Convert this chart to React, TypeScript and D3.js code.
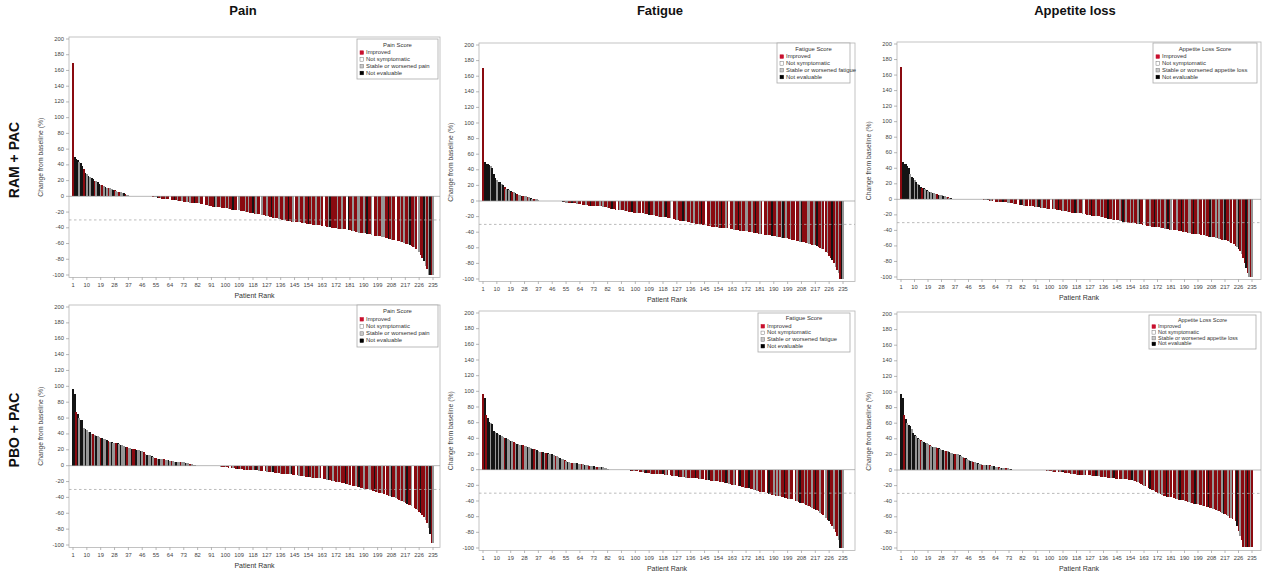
import React from 'react'
import * as d3 from 'd3'

// patient ranks and axis ticks
const ranks = d3.range(1, 236)
const rankTicks = [1, 10, 19, 28, 37, 46, 55, 64, 73, 82, 91, 100, 109, 118, 127, 136, 145, 154, 163, 172, 181, 190, 199, 208, 217, 226, 235]
const yTicks = [-100, -80, -60, -40, -20, 0, 20, 40, 60, 80, 100, 120, 140, 160, 180, 200]

const columnTitles = ['Pain', 'Fatigue', 'Appetite loss']
const rowTitles = ['RAM + PAC', 'PBO + PAC']
const legendTitles = ['Pain Score', 'Fatigue Score', 'Appetite Loss Score']
const worsenedLabels = ['Stable or worsened pain', 'Stable or worsened fatigue', 'Stable or worsened appetite loss']

// R = improved, W = not symptomatic, G = stable or worsened, K = not evaluable
const painRamValues = [
  170, 50, 48, 46, 44, 42, 38, 35, 30, 28,
  26, 25, 23, 22, 20, 19, 18, 16, 15, 14,
  13, 12, 11, 10, 10, 9, 8, 8, 7, 6,
  6, 5, 4, 4, 3, 2, 2, 1, 0, 0,
  0, 0, 0, 0, 0, 0, 0, 0, 0, 0,
  0, 0, -1, -1, -1, -2, -2, -2, -3, -3,
  -3, -4, -4, -4, -5, -5, -5, -5, -6, -6,
  -6, -6, -7, -7, -7, -7, -8, -8, -8, -8,
  -8, -9, -9, -10, -10, -10, -11, -11, -12, -12,
  -12, -13, -13, -13, -14, -14, -14, -15, -15, -15,
  -15, -16, -16, -17, -17, -17, -18, -18, -18, -19,
  -19, -19, -20, -20, -20, -21, -21, -21, -22, -22,
  -22, -23, -23, -24, -24, -25, -25, -25, -26, -26,
  -27, -27, -28, -28, -29, -29, -30, -30, -30, -31,
  -31, -31, -32, -32, -32, -33, -33, -33, -33, -34,
  -34, -34, -35, -35, -35, -35, -36, -36, -36, -37,
  -37, -37, -38, -38, -38, -39, -39, -39, -40, -40,
  -40, -40, -41, -41, -41, -42, -42, -42, -43, -43,
  -43, -44, -44, -44, -45, -45, -46, -46, -46, -47,
  -47, -48, -48, -48, -49, -49, -50, -50, -50, -51,
  -51, -52, -52, -53, -53, -54, -54, -55, -55, -56,
  -56, -57, -57, -58, -58, -59, -60, -60, -61, -62,
  -63, -64, -65, -67, -69, -71, -74, -78, -82, -88,
  -93, -100, -100, -100, -100,
]
const painRamCats = [
  'RKKKGKKRKG', 'KGKKRGKKGR', 'GKGRGGKRGG', 'RGGKRGGGGG', 'GGGGGGGGGG',
  'GGRGGKRGRR', 'GRRWRRKRGR', 'RGRRGRGRRK', 'RRGRRWRRGR', 'RRKGRRGRRG',
  'RGRRKRRWGR', 'RRGRGRRKRG', 'RRWGRRGRRK', 'RGRRGRRGRR', 'KRRGWRRGRR',
  'GRRKRGRRGR', 'RGRWRRGKRR', 'RRGRRGRRWK', 'RRGRRGGRRG', 'RKRRGWRRGR',
  'RGGRRKRGRR', 'WRRGRGRRGK', 'RRGRWGRRKG', 'RGKRG',
]

const fatigueRamValues = [
  170, 50, 48, 47, 46, 45, 42, 35, 30, 27,
  25, 24, 22, 20, 18, 16, 15, 14, 13, 12,
  11, 10, 9, 8, 8, 7, 7, 6, 6, 5,
  5, 4, 3, 3, 2, 2, 1, 0, 0, 0,
  0, 0, 0, 0, 0, 0, 0, 0, 0, 0,
  0, 0, -1, -1, -2, -2, -2, -3, -3, -3,
  -3, -4, -4, -4, -4, -5, -5, -5, -5, -6,
  -6, -6, -6, -7, -7, -7, -7, -7, -8, -8,
  -8, -9, -9, -10, -10, -10, -11, -11, -11, -12,
  -12, -12, -13, -13, -13, -14, -14, -14, -15, -15,
  -15, -15, -16, -16, -16, -17, -17, -17, -18, -18,
  -18, -18, -19, -19, -20, -20, -20, -21, -21, -21,
  -22, -22, -22, -23, -23, -24, -24, -24, -25, -25,
  -26, -26, -26, -27, -27, -28, -28, -28, -29, -29,
  -30, -30, -30, -31, -31, -31, -32, -32, -32, -33,
  -33, -33, -33, -34, -34, -34, -35, -35, -35, -35,
  -36, -36, -36, -37, -37, -37, -37, -38, -38, -38,
  -39, -39, -39, -40, -40, -40, -41, -41, -41, -42,
  -42, -42, -43, -43, -43, -44, -44, -44, -45, -45,
  -45, -46, -46, -46, -47, -47, -48, -48, -48, -49,
  -49, -50, -50, -50, -51, -51, -52, -52, -53, -53,
  -54, -54, -55, -55, -56, -57, -57, -58, -59, -60,
  -61, -62, -63, -65, -67, -70, -73, -76, -80, -84,
  -88, -92, -100, -100, -100,
]
const fatigueRamCats = [
  'RKKKKGKKKG', 'KKGKRGKGKR', 'GKRGGKRGGR', 'GKGRGGGGGG', 'GGGGGGGGGG',
  'GGKRGGRRKR', 'RGRRWRRGRR', 'KRRGRRGRGR', 'RGRRKRRWRG', 'RRGRGRRKRR',
  'GRRWRGRRKR', 'RGRRGRRGRK', 'RRGWRRGRRR', 'KRGRRGRGRR', 'GRKRRWRRGR',
  'RGRGRKRRGR', 'WRRGRRKRGR', 'RGGRRGRKRR', 'GRWRRGRRKR', 'RGRRGKRGRR',
  'GRRWRRGKRR', 'RGGRRGRKRR', 'GRWRGRRKRG', 'RGRKG',
]

const appetiteRamValues = [
  170, 48, 46, 45, 43, 40, 32, 29, 27, 25,
  22, 20, 18, 16, 15, 14, 13, 12, 11, 10,
  9, 8, 8, 7, 7, 6, 5, 5, 4, 4,
  3, 3, 2, 2, 1, 1, 0, 0, 0, 0,
  0, 0, 0, 0, 0, 0, 0, 0, 0, 0,
  0, 0, 0, 0, 0, -1, -1, -1, -1, -2,
  -2, -2, -2, -3, -3, -3, -3, -4, -4, -4,
  -4, -5, -5, -5, -5, -6, -6, -6, -6, -7,
  -7, -7, -8, -8, -8, -8, -9, -9, -9, -10,
  -10, -10, -10, -11, -11, -11, -11, -12, -12, -12,
  -13, -13, -13, -13, -14, -14, -14, -15, -15, -15,
  -15, -16, -16, -16, -17, -17, -17, -18, -18, -18,
  -18, -19, -19, -19, -20, -20, -20, -21, -21, -21,
  -22, -22, -22, -23, -23, -23, -24, -24, -25, -25,
  -25, -26, -26, -27, -27, -27, -28, -28, -29, -29,
  -29, -30, -30, -30, -31, -31, -31, -32, -32, -32,
  -32, -33, -33, -33, -34, -34, -34, -35, -35, -35,
  -36, -36, -36, -37, -37, -37, -38, -38, -38, -39,
  -39, -39, -40, -40, -40, -41, -41, -41, -42, -42,
  -42, -43, -43, -43, -44, -44, -44, -45, -45, -45,
  -46, -46, -46, -47, -47, -48, -48, -48, -49, -49,
  -50, -50, -51, -51, -52, -52, -53, -53, -54, -55,
  -56, -57, -58, -60, -62, -64, -67, -71, -76, -82,
  -88, -95, -100, -100, -100,
]
const appetiteRamCats = [
  'RKKKKKGKKG', 'KGKKRKGKGK', 'GKGGRKGGKG', 'GRGKGGGGGG', 'GGGGGGGGGG',
  'GGGGGRGGKR', 'GRWRRGRRKR', 'RGGRRGRRWR', 'KRGRRWRGRR', 'GRKRGRRGRR',
  'WRGRRKRRGR', 'RGRGRRKRGR', 'RGWRRGRKRR', 'GRRGRGRRKR', 'RGRWRRGRKR',
  'GRRGRGRRGK', 'RRWGRRGRRK', 'RGRGRRGRKR', 'GWRRGRRKRG', 'RRGGRKRRGR',
  'RWRGRRKGRR', 'GRGRRGKRRG', 'RWRRGKRGRR', 'KRGRG',
]

const painPboValues = [
  97, 90, 68, 65, 60, 58, 57, 48, 46, 45,
  43, 42, 40, 40, 39, 38, 37, 36, 35, 35,
  34, 33, 32, 31, 30, 30, 29, 29, 28, 28,
  27, 26, 26, 25, 24, 23, 22, 22, 21, 21,
  21, 20, 20, 20, 19, 18, 17, 15, 14, 13,
  13, 12, 11, 10, 10, 9, 9, 8, 8, 8,
  7, 7, 7, 6, 6, 6, 5, 5, 5, 4,
  4, 4, 4, 3, 3, 3, 2, 2, 1, 1,
  0, 0, 0, 0, 0, 0, 0, 0, 0, 0,
  0, 0, -1, -1, -1, -1, -2, -2, -2, -2,
  -2, -3, -3, -3, -3, -3, -4, -4, -4, -4,
  -4, -5, -5, -5, -5, -5, -6, -6, -6, -6,
  -6, -7, -7, -7, -7, -7, -8, -8, -8, -8,
  -8, -9, -9, -9, -9, -10, -10, -10, -10, -11,
  -11, -11, -11, -12, -12, -12, -12, -13, -13, -13,
  -13, -14, -14, -14, -14, -15, -15, -15, -16, -16,
  -16, -16, -17, -17, -17, -18, -18, -18, -19, -19,
  -19, -20, -20, -21, -21, -22, -22, -23, -23, -24,
  -24, -25, -25, -26, -26, -27, -27, -28, -28, -29,
  -29, -30, -30, -31, -31, -32, -32, -33, -33, -34,
  -34, -35, -36, -36, -37, -38, -38, -39, -40, -40,
  -41, -42, -43, -44, -45, -46, -47, -48, -49, -50,
  -51, -52, -53, -55, -56, -58, -60, -62, -65, -68,
  -72, -78, -86, -97, -97,
]
const painPboCats = [
  'KKRKGKKGKG', 'GKGRGKGGRK', 'GGKRGKGGRK', 'GKGGKRGGKR', 'RKGGKGRGKG',
  'GKGRRGKGGR', 'GGKGRGGKGG', 'RGGKGGRGGG', 'GGGGGGGGGG', 'GGRGKRGRRG',
  'RRWRGRRKRG', 'RRGRGRRGRK', 'RGRRWRGRRG', 'KRRGRGRRGR', 'RGKRRWRGRR',
  'GRRKRGRGRR', 'GRWRRGKRRG', 'RRGRGRRKRG', 'RWRRGRKRRG', 'RRGGRRKRGR',
  'RGRWRRGKRR', 'GRRGRGRKRR', 'GWRRGRKRRG', 'RGKRG',
]

const fatiguePboValues = [
  97, 91, 70, 66, 61, 59, 58, 50, 48, 47,
  46, 44, 43, 42, 41, 40, 39, 38, 37, 36,
  35, 34, 33, 33, 32, 32, 31, 30, 30, 29,
  29, 28, 27, 26, 26, 25, 24, 23, 22, 22,
  21, 21, 21, 20, 20, 20, 19, 18, 17, 16,
  15, 14, 13, 12, 11, 10, 10, 9, 9, 8,
  8, 8, 7, 7, 7, 7, 6, 6, 6, 5,
  5, 5, 5, 4, 4, 4, 3, 3, 3, 2,
  2, 1, 0, 0, 0, 0, 0, 0, 0, 0,
  0, 0, -1, -1, -1, -1, -2, -2, -2, -2,
  -2, -3, -3, -3, -3, -4, -4, -4, -4, -5,
  -5, -5, -5, -5, -6, -6, -6, -6, -7, -7,
  -7, -7, -7, -8, -8, -8, -8, -9, -9, -9,
  -9, -9, -10, -10, -10, -10, -11, -11, -11, -11,
  -12, -12, -12, -12, -13, -13, -13, -13, -14, -14,
  -14, -15, -15, -15, -16, -16, -16, -17, -17, -17,
  -18, -18, -19, -19, -20, -20, -21, -21, -22, -22,
  -23, -23, -24, -24, -25, -25, -26, -26, -27, -27,
  -28, -28, -29, -29, -30, -30, -31, -31, -32, -32,
  -33, -33, -34, -34, -35, -35, -36, -36, -37, -37,
  -38, -38, -39, -40, -40, -41, -42, -42, -43, -44,
  -45, -46, -47, -48, -49, -50, -51, -52, -53, -55,
  -56, -58, -60, -62, -64, -66, -69, -72, -76, -80,
  -85, -90, -100, -100, -100,
]
const fatiguePboCats = [
  'RKRKKGKKGK', 'GKGGRKGGKG', 'RGKGGKRGGK', 'GGKRGKGGRK', 'GRKGGKGRGG',
  'KGGRGKGGRG', 'GKGGRGKGGR', 'GGKGRGGKGG', 'GGGGGGGGGG', 'GGRGRRKRGR',
  'RWRRGRKRRG', 'RRGRGRRKRG', 'RWRRGRRKRR', 'GRGRRGRRKR', 'RGRRWRGKRR',
  'GRRGRGRRKR', 'GRRGRWRKRR', 'GRRKRRGRGR', 'RGRRWRKRRG', 'RGRGRRKRRG',
  'RRWRGRKRRG', 'RGRRGRKRRG', 'RRWGRKRRGR', 'RGKRG',
]

const appetitePboValues = [
  97, 92, 70, 65, 60, 58, 57, 52, 48, 45,
  43, 41, 40, 38, 37, 36, 35, 34, 33, 32,
  31, 30, 30, 29, 28, 28, 27, 26, 26, 25,
  25, 24, 23, 22, 22, 21, 21, 20, 20, 19,
  18, 17, 16, 15, 14, 13, 12, 11, 10, 10,
  9, 9, 8, 8, 7, 7, 7, 6, 6, 6,
  5, 5, 5, 4, 4, 4, 3, 3, 3, 2,
  2, 2, 1, 1, 0, 0, 0, 0, 0, 0,
  0, 0, 0, 0, 0, 0, 0, 0, 0, 0,
  0, 0, 0, 0, 0, 0, 0, -1, -1, -1,
  -1, -2, -2, -2, -2, -3, -3, -3, -3, -4,
  -4, -4, -4, -5, -5, -5, -5, -6, -6, -6,
  -6, -6, -7, -7, -7, -7, -7, -8, -8, -8,
  -8, -8, -8, -9, -9, -9, -9, -9, -10, -10,
  -10, -10, -10, -11, -11, -11, -11, -12, -12, -12,
  -12, -12, -13, -13, -13, -14, -14, -15, -16, -17,
  -18, -19, -20, -21, -22, -23, -24, -25, -26, -27,
  -28, -29, -30, -31, -32, -33, -33, -34, -34, -35,
  -35, -36, -36, -37, -37, -38, -38, -39, -39, -40,
  -40, -41, -41, -42, -42, -43, -43, -44, -44, -45,
  -45, -46, -46, -47, -48, -48, -49, -49, -50, -50,
  -51, -52, -53, -54, -55, -56, -57, -58, -59, -61,
  -62, -63, -64, -66, -72, -78, -84, -90, -99, -99,
  -99, -99, -99, -99, -99,
]
const appetitePboCats = [
  'KKRKGKKGKK', 'GKGRGKKGGR', 'GKGGRKGGKG', 'RGKGGKRGGK', 'GGRKGGKGRG',
  'GKGGRGGKGR', 'GGKGGRGKGG', 'RGGKGGGGGG', 'GGGGGGGGGG', 'GGGGGGGRGR',
  'RGRRWRGRKR', 'RGRRGRRGRK', 'RRGRWRRGRR', 'KRGRRGRGRR', 'GRKRRWRRGR',
  'RGRRKGRRGR', 'RRGRWRKRRG', 'RRGRGRRKRG', 'RWRRGRKRRG', 'RRGGRRKRGR',
  'RGRWRKRRGR', 'RGRRGKRRGR', 'GRWRKRGRRG', 'RKRGR',
]

const barColor: Record<string, string> = { R: '#8a0a10', W: '#ffffff', G: '#969696', K: '#141414' }
const FONT = '"Liberation Sans", Arial, sans-serif'

const panels = [
  { col: 0, values: painRamValues, cats: painRamCats, left: 69, right: 440, r1: 73, rN: 433, y200: 39, yLow: 275, lg: { x: 357, y: 39, w: 81, h: 40, fs: 5.9 } },
  { col: 1, values: fatigueRamValues, cats: fatigueRamCats, left: 479, right: 855, r1: 483, rN: 843, y200: 45, yLow: 279, lg: { x: 777, y: 43, w: 73, h: 40, fs: 5.9 } },
  { col: 2, values: appetiteRamValues, cats: appetiteRamCats, left: 897, right: 1261, r1: 901, rN: 1252, y200: 44, yLow: 277, lg: { x: 1153, y: 43, w: 104, h: 40, fs: 5.9 } },
  { col: 0, values: painPboValues, cats: painPboCats, left: 69, right: 440, r1: 73, rN: 433, y200: 307, yLow: 545, lg: { x: 357, y: 305, w: 81, h: 42, fs: 5.9 } },
  { col: 1, values: fatiguePboValues, cats: fatiguePboCats, left: 479, right: 855, r1: 483, rN: 843, y200: 313, yLow: 548, lg: { x: 758, y: 313, w: 92, h: 39, fs: 5.9 } },
  { col: 2, values: appetitePboValues, cats: appetitePboCats, left: 897, right: 1261, r1: 901, rN: 1252, y200: 314, yLow: 548, lg: { x: 1149, y: 315, w: 107, h: 34, fs: 5.5 } },
]

function Legend({ lg, col }: any) {
  const items = [
    { label: 'Improved', fill: '#c8102e', stroke: '#c8102e' },
    { label: 'Not symptomatic', fill: '#ffffff', stroke: '#777' },
    { label: worsenedLabels[col], fill: '#c8c8c8', stroke: '#777' },
    { label: 'Not evaluable', fill: '#000', stroke: '#000' },
  ]
  const step = lg.h * 0.17
  return (
    <g fontFamily={FONT} fontSize={lg.fs} fill="#333">
      <rect x={lg.x} y={lg.y} width={lg.w} height={lg.h} fill="#fff" stroke="#aaa" strokeWidth={0.8} />
      <text x={lg.x + lg.w / 2} y={lg.y + lg.h * 0.15} textAnchor="middle" dominantBaseline="middle">{legendTitles[col]}</text>
      {items.map((it, i) => {
        const cy = lg.y + lg.h * 0.34 + i * step
        return (
          <g key={i}>
            <rect x={lg.x + 3} y={cy - 1.8} width={3.6} height={3.6} fill={it.fill} stroke={it.stroke} strokeWidth={0.5} />
            <text x={lg.x + 9} y={cy} dominantBaseline="middle">{it.label}</text>
          </g>
        )
      })}
    </g>
  )
}

function Panel({ p }: any) {
  const bw = (p.rN - p.r1) / 234
  const x = d3.scaleBand<number>().domain(ranks).range([p.r1 - bw / 2, p.rN + bw / 2]).padding(0)
  const y = d3.scaleLinear().domain([-100, 200]).range([p.yLow, p.y200])
  const cats = p.cats.join('')
  const top = y(200) - 2
  const bottom = y(-100) + 2.5
  const midY = (top + bottom) / 2
  return (
    <g>
      <rect x={p.left} y={top} width={p.right - p.left} height={bottom - top} fill="#fff" stroke="#b4b4b4" strokeWidth={0.8} />
      <g shapeRendering="crispEdges">
        {p.values.map((v: number, i: number) => {
          const r = ranks[i]
          const y0 = y(0)
          const yv = y(v)
          return (
            <rect key={i} x={x(r)} width={x.bandwidth() + 0.3} y={Math.min(y0, yv)} height={Math.abs(yv - y0)}
              fill={barColor[cats[i]] || barColor.G} />
          )
        })}
      </g>
      <line x1={p.left} x2={p.right} y1={y(0)} y2={y(0)} stroke="#9a9a9a" strokeWidth={0.7} />
      <line x1={p.left} x2={p.right} y1={y(-30)} y2={y(-30)} stroke="#aaa" strokeWidth={0.8} strokeDasharray="2.5,2.5" />
      <g fontFamily={FONT} fontSize={5.8} fill="#444">
        {yTicks.map(t => (
          <g key={t}>
            <line x1={p.left - 3} x2={p.left} y1={y(t)} y2={y(t)} stroke="#888" strokeWidth={0.6} />
            <text x={p.left - 5} y={y(t)} textAnchor="end" dominantBaseline="middle">{t}</text>
          </g>
        ))}
        {rankTicks.map(t => (
          <g key={t}>
            <line x1={(x(t) || 0) + bw / 2} x2={(x(t) || 0) + bw / 2} y1={bottom} y2={bottom + 2.5} stroke="#888" strokeWidth={0.6} />
            <text x={(x(t) || 0) + bw / 2} y={bottom + 7.5} textAnchor="middle" dominantBaseline="middle">{t}</text>
          </g>
        ))}
      </g>
      <text x={(p.left + p.right) / 2} y={bottom + 19} textAnchor="middle" dominantBaseline="middle" fontFamily={FONT} fontSize={7} fill="#333">Patient Rank</text>
      <text transform={`translate(${p.left - 28},${midY}) rotate(-90)`} textAnchor="middle" dominantBaseline="middle" fontFamily={FONT} fontSize={6.8} fill="#444">Change from baseline (%)</text>
      <Legend lg={p.lg} col={p.col} />
    </g>
  )
}

export default function App() {
  const colX = [243, 660, 1075]
  const rowY = [160, 430]
  return (
    <svg width={1263} height={577} style={{ position: 'absolute', left: 0, top: 0, background: '#fff' }}>
      <rect width={1263} height={577} fill="#fff" />
      {columnTitles.map((t, i) => (
        <text key={t} x={colX[i]} y={12} textAnchor="middle" dominantBaseline="middle" fontFamily={FONT} fontWeight="bold" fontSize={13} fill="#111">{t}</text>
      ))}
      {rowTitles.map((t, i) => (
        <text key={t} transform={`translate(15,${rowY[i]}) rotate(-90)`} textAnchor="middle" dominantBaseline="middle" fontFamily={FONT} fontWeight="bold" fontSize={14} fill="#111">{t}</text>
      ))}
      {panels.map((p, i) => <Panel key={i} p={p} />)}
    </svg>
  )
}
